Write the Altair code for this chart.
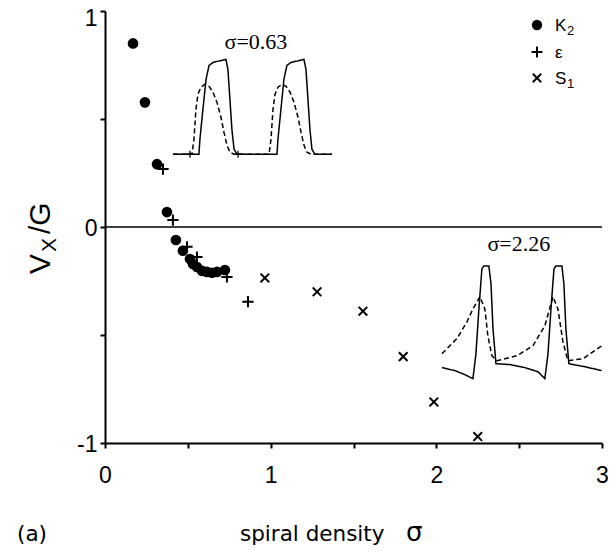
import altair as alt
import pandas as pd

# ---------------- data ----------------
series_names = ["K", "ε", "S"]
series_subs = ["2", "", "1"]

k2_sigma = [0.169, 0.241, 0.314, 0.374, 0.428, 0.47, 0.513, 0.531, 0.555, 0.585, 0.615, 0.646, 0.676, 0.724]
k2_v = [0.85, 0.577, 0.291, 0.069, -0.06, -0.11, -0.148, -0.171, -0.185, -0.203, -0.208, -0.212, -0.208, -0.199]

eps_sigma = [0.35, 0.41, 0.495, 0.555, 0.736, 0.863]
eps_v = [0.268, 0.032, -0.092, -0.139, -0.231, -0.346]

s1_sigma = [0.965, 1.28, 1.557, 1.80, 1.985, 2.25]
s1_v = [-0.236, -0.30, -0.39, -0.60, -0.81, -0.97]

# inset waveforms (drawn in the chart's own sigma / V coordinates)
ins_a_solid_sigma = [0.410, 0.567, 0.573, 0.591, 0.610, 0.628, 0.652, 0.730, 0.742, 0.754, 0.766, 0.779, 0.797,
                     1.038, 1.044, 1.062, 1.080, 1.098, 1.123, 1.201, 1.213, 1.225, 1.237, 1.249, 1.267, 1.370]
ins_a_solid_v = [0.337, 0.337, 0.406, 0.545, 0.684, 0.748, 0.762, 0.776, 0.730, 0.591, 0.453, 0.360, 0.337,
                 0.337, 0.406, 0.545, 0.684, 0.748, 0.762, 0.776, 0.730, 0.591, 0.453, 0.360, 0.337, 0.337]

ins_a_dash_sigma = [0.410, 0.525, 0.537, 0.549, 0.561, 0.579, 0.604, 0.628, 0.652, 0.676, 0.700, 0.718, 0.736, 0.754, 0.779,
                    0.990, 1.002, 1.014, 1.026, 1.044, 1.069, 1.093, 1.117, 1.141, 1.165, 1.183, 1.201, 1.219, 1.244, 1.370]
ins_a_dash_v = [0.337, 0.337, 0.406, 0.545, 0.614, 0.647, 0.661, 0.651, 0.624, 0.577, 0.508, 0.439, 0.379, 0.346, 0.337,
                0.337, 0.406, 0.545, 0.614, 0.647, 0.661, 0.651, 0.624, 0.577, 0.508, 0.439, 0.379, 0.346, 0.337, 0.337]

ins_b_solid_sigma = [2.034, 2.112, 2.173, 2.221, 2.239, 2.257, 2.275, 2.287, 2.317, 2.330, 2.342, 2.360, 2.444,
                     2.535, 2.613, 2.655, 2.674, 2.692, 2.710, 2.722, 2.758, 2.770, 2.782, 2.800, 2.897, 2.999]
ins_b_solid_v = [-0.651, -0.665, -0.684, -0.702, -0.587, -0.379, -0.194, -0.180, -0.180, -0.263, -0.471, -0.633, -0.637,
                 -0.651, -0.670, -0.702, -0.587, -0.379, -0.194, -0.180, -0.180, -0.263, -0.471, -0.633, -0.647, -0.665]

ins_b_dash_sigma = [2.034, 2.124, 2.185, 2.221, 2.263, 2.293, 2.311, 2.335, 2.366, 2.486, 2.583, 2.655, 2.704,
                    2.734, 2.764, 2.794, 2.885, 2.999]
ins_b_dash_v = [-0.587, -0.517, -0.439, -0.379, -0.323, -0.379, -0.503, -0.596, -0.619, -0.596, -0.550, -0.457, -0.323,
                -0.379, -0.531, -0.619, -0.610, -0.550]

ins_marker_sigma = [0.513, 0.803]
ins_marker_v = [0.337, 0.337]

note_text = ["σ=0.63", "σ=2.26"]
note_sigma = [0.911, 2.498]
note_v = [0.822, -0.11]

x_ticks = [0, 0.5, 1, 1.5, 2, 2.5, 3]
y_ticks = [-1, -0.5, 0, 0.5, 1]

# ---------------- tables ----------------
pts = pd.DataFrame({
    "sigma": k2_sigma + eps_sigma + s1_sigma,
    "v": k2_v + eps_v + s1_v,
    "series": [series_names[0]] * len(k2_sigma) + [series_names[1]] * len(eps_sigma) + [series_names[2]] * len(s1_sigma),
})

rows = []
for name, dash, xs, ys in [("a_solid", "solid", ins_a_solid_sigma, ins_a_solid_v),
                           ("a_dash", "dashed", ins_a_dash_sigma, ins_a_dash_v),
                           ("b_solid", "solid", ins_b_solid_sigma, ins_b_solid_v),
                           ("b_dash", "dashed", ins_b_dash_sigma, ins_b_dash_v)]:
    for i, (a, b) in enumerate(zip(xs, ys)):
        rows.append({"sigma": a, "v": b, "curve": name, "dash": dash, "idx": i})
ins = pd.DataFrame(rows)

markers = pd.DataFrame({"sigma": ins_marker_sigma, "v": ins_marker_v})
notes = pd.DataFrame({"sigma": note_sigma, "v": note_v, "t": note_text})
one = pd.DataFrame({"a": [0]})

PLUS = "M-1.3,0L1.3,0M0,-1.3L0,1.3"
XSHAPE = "M-1,-1L1,1M-1,1L1,-1"
shape_scale = alt.Scale(domain=series_names, range=["circle", PLUS, XSHAPE])

xscale = alt.Scale(domain=[0, 3], nice=False, zero=False)
yscale = alt.Scale(domain=[-1, 1], nice=False, zero=False)

axis_common = dict(grid=False, title=None, domainColor="black", domainWidth=2, tickColor="black",
                   tickWidth=2, tickSize=5, labelFont="Liberation Sans", labelFontSize=23,
                   labelColor="black", labelFlush=False, labelOverlap=False)

xaxis = alt.Axis(values=x_ticks, labelExpr="datum.value % 1 == 0 ? format(datum.value, 'd') : ''",
                 labelPadding=16, **axis_common)
yaxis = alt.Axis(values=y_ticks,
                 labelExpr="datum.value == -1 ? '-1' : datum.value == 0 ? '0' : datum.value == 1 ? '1' : ''",
                 labelPadding=3,
                 labelOffset={"condition": {"test": "datum.value == 1", "value": 7}, "value": 1},
                 **axis_common)

X = alt.X("sigma:Q", scale=xscale, axis=xaxis)
Y = alt.Y("v:Q", scale=yscale, axis=yaxis)

zero_rule = alt.Chart(pd.DataFrame({"v": [0]})).mark_rule(color="black", strokeWidth=1.3).encode(y=Y)

lines = alt.Chart(ins).mark_line(color="black", strokeWidth=1.5).encode(
    x=X, y=Y,
    detail="curve:N",
    strokeDash=alt.StrokeDash("dash:N", scale=alt.Scale(domain=["solid", "dashed"], range=[[1, 0], [5, 3]]),
                              legend=None),
    order="idx:Q",
)

mark_pts = alt.Chart(markers).mark_point(shape=PLUS, size=30, stroke="black", strokeWidth=1.3,
                                         opacity=1).encode(x=X, y=Y)

points = alt.Chart(pts).mark_point(filled=True, fill="black", stroke="black", strokeWidth=2, size=75,
                                   opacity=1).encode(
    x=X, y=Y,
    shape=alt.Shape("series:N", scale=shape_scale, legend=None),
)

note_layer = alt.Chart(notes).mark_text(font="Liberation Serif", fontSize=22, color="black", align="center",
                                        baseline="alphabetic").encode(x=X, y=Y, text="t:N")


def label(txt, px, py, size, font="Liberation Sans", angle=0, align="left"):
    return alt.Chart(one).mark_text(text=txt, font=font, fontSize=size, color="black", align=align,
                                    baseline="alphabetic", angle=angle).encode(
        x=alt.value(px), y=alt.value(py))


# legend (key symbols use the same shape scale as the data)
legend_layers = []
row_y = [14, 41, 67]
for name, sub, ry in zip(series_names, series_subs, row_y):
    sym = alt.Chart(pd.DataFrame({"series": [name]})).mark_point(
        filled=True, fill="black", stroke="black", strokeWidth=2, size=70, opacity=1).encode(
        x=alt.value(432), y=alt.value(ry),
        shape=alt.Shape("series:N", scale=shape_scale, legend=None))
    legend_layers.append(sym)
    legend_layers.append(label(name, 450, ry + 6, 17))
    if sub:
        legend_layers.append(label(sub, 462, ry + 10, 13))

titles = [
    label("spiral density", 135, 530, 21.5, font="DejaVu Sans"),
    label("σ", 301, 530, 26, font="DejaVu Sans"),
    label("(a)", -88, 530, 21.5, font="DejaVu Sans"),
    label("V", -55, 263, 30, angle=270),
    label("X", -49, 241, 21, angle=270),
    label("/G", -55, 223, 30, angle=270),
]

chart = alt.layer(zero_rule, lines, mark_pts, points, note_layer, *legend_layers, *titles).properties(
    width=497, height=432,
    padding={"left": 97, "top": 3, "right": 6, "bottom": 106},
    autosize=alt.AutoSizeParams(type="none"),
    background="white",
).configure_view(strokeWidth=0)

chart.save("out.html", embed_options={"renderer": "svg", "actions": False})
